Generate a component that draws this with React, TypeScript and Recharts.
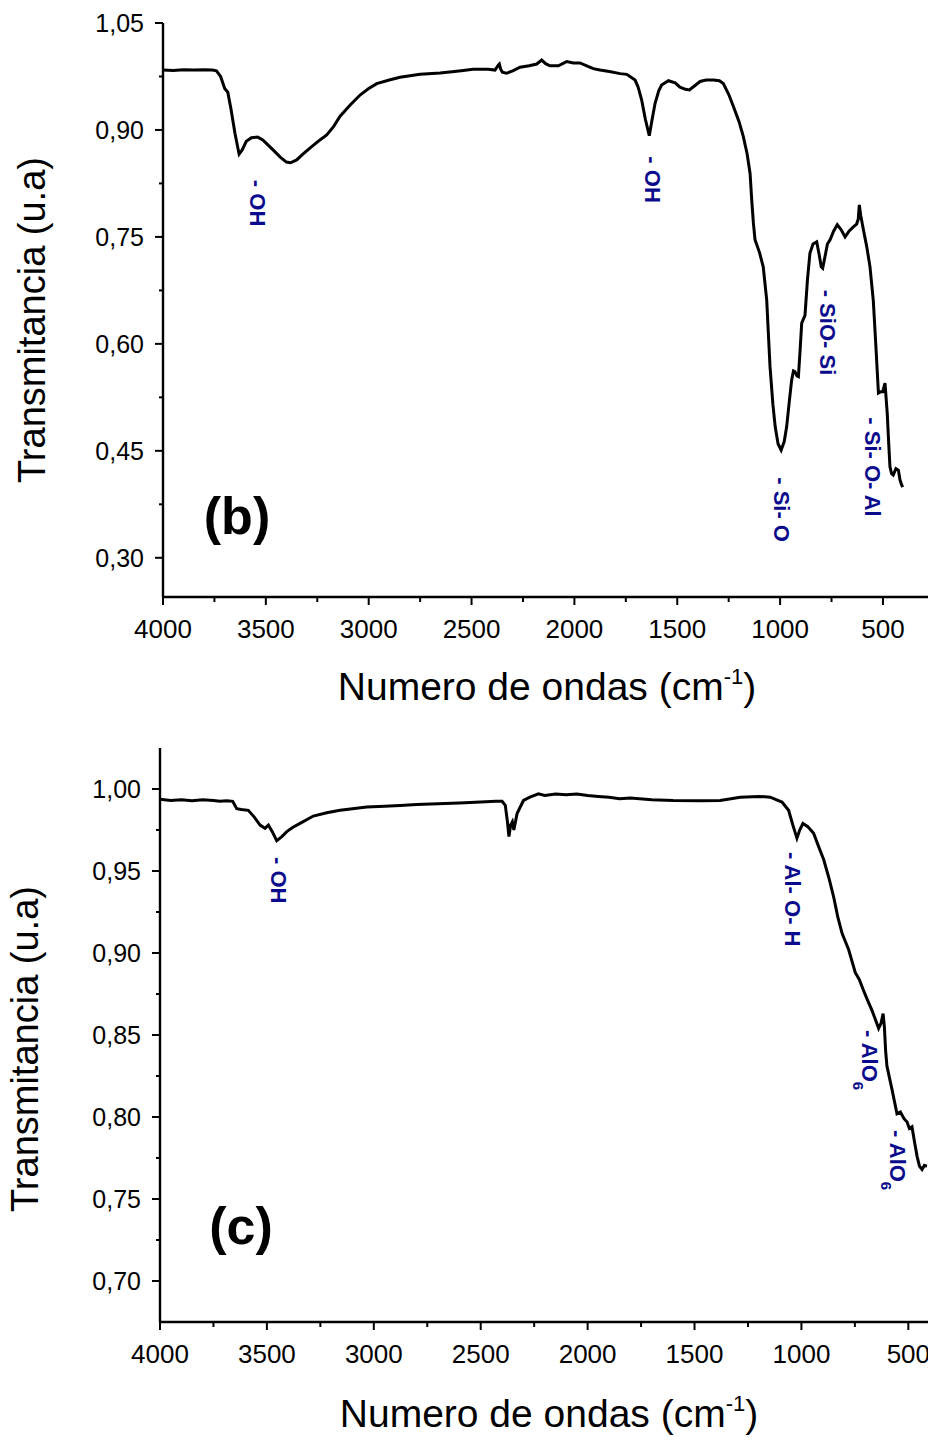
import React from 'react';
import { LineChart, Line, XAxis, YAxis, ReferenceDot } from 'recharts';

// spectrum (b)
const waveB = [4000, 3950, 3900, 3850, 3800, 3760, 3740, 3720, 3700, 3685, 3670, 3650, 3630, 3615, 3595, 3570, 3540, 3515, 3490, 3465, 3430, 3400, 3380, 3350, 3320, 3280, 3237, 3204, 3170, 3140, 3090, 3042, 3000, 2961, 2900, 2848, 2750, 2653, 2550, 2493, 2420, 2386, 2370, 2365, 2358, 2350, 2330, 2300, 2264, 2220, 2183, 2159, 2140, 2119, 2078, 2050, 2037, 2005, 1973, 1940, 1908, 1876, 1830, 1778, 1746, 1730, 1705, 1690, 1673, 1655, 1636, 1622, 1608, 1590, 1576, 1543, 1510, 1487, 1460, 1441, 1415, 1389, 1360, 1325, 1295, 1276, 1250, 1227, 1200, 1179, 1160, 1146, 1138, 1130, 1122, 1100, 1082, 1065, 1058, 1049, 1035, 1024, 1010, 995, 980, 968, 955, 944, 935, 928, 918, 911, 903, 895, 879, 867, 855, 840, 822, 810, 800, 793, 780, 770, 757, 740, 722, 703, 684, 665, 644, 628, 620, 615, 608, 595, 578, 563, 547, 535, 522, 510, 501, 490, 479, 472, 466, 458, 450, 437, 425, 417, 410, 404];
const transB = [0.984, 0.9835, 0.9845, 0.984, 0.9845, 0.984, 0.983, 0.975, 0.958, 0.953, 0.93, 0.895, 0.866, 0.872, 0.884, 0.889, 0.89, 0.886, 0.879, 0.872, 0.862, 0.855, 0.854, 0.858, 0.866, 0.876, 0.886, 0.893, 0.905, 0.919, 0.935, 0.949, 0.958, 0.965, 0.97, 0.974, 0.978, 0.98, 0.983, 0.985, 0.985, 0.984, 0.991, 0.9925, 0.985, 0.981, 0.9795, 0.983, 0.988, 0.99, 0.9925, 0.998, 0.993, 0.99, 0.99, 0.994, 0.996, 0.994, 0.994, 0.99, 0.986, 0.984, 0.982, 0.979, 0.978, 0.975, 0.97, 0.96, 0.942, 0.915, 0.892, 0.915, 0.937, 0.955, 0.963, 0.969, 0.966, 0.96, 0.957, 0.956, 0.962, 0.968, 0.97, 0.97, 0.969, 0.965, 0.95, 0.933, 0.912, 0.891, 0.866, 0.839, 0.802, 0.77, 0.746, 0.728, 0.708, 0.661, 0.62, 0.568, 0.515, 0.484, 0.46, 0.451, 0.463, 0.484, 0.52, 0.549, 0.562, 0.561, 0.555, 0.554, 0.59, 0.629, 0.64, 0.69, 0.727, 0.74, 0.743, 0.725, 0.708, 0.706, 0.725, 0.74, 0.746, 0.758, 0.767, 0.76, 0.75, 0.758, 0.764, 0.768, 0.775, 0.795, 0.78, 0.76, 0.735, 0.708, 0.661, 0.6, 0.531, 0.533, 0.533, 0.545, 0.502, 0.46, 0.428, 0.418, 0.416, 0.425, 0.423, 0.409, 0.403, 0.399];

// spectrum (c)
const waveC = [4000, 3950, 3900, 3850, 3800, 3750, 3720, 3688, 3660, 3641, 3620, 3587, 3560, 3532, 3509, 3493, 3475, 3454, 3430, 3407, 3380, 3345, 3283, 3220, 3158, 3100, 3033, 2950, 2877, 2800, 2700, 2600, 2500, 2430, 2400, 2385, 2375, 2368, 2360, 2352, 2345, 2330, 2300, 2270, 2230, 2200, 2150, 2100, 2050, 2000, 1950, 1900, 1850, 1800, 1700, 1600, 1473, 1380, 1286, 1200, 1146, 1110, 1091, 1060, 1040, 1021, 1008, 993, 970, 943, 920, 896, 870, 849, 830, 810, 779, 748, 730, 709, 690, 670, 650, 639, 628, 618, 612, 606, 600, 576, 553, 537, 520, 506, 495, 483, 470, 459, 448, 436, 425, 413];
const transC = [0.9937, 0.993, 0.9935, 0.9928, 0.9935, 0.993, 0.9925, 0.9929, 0.9925, 0.988, 0.9875, 0.987, 0.983, 0.978, 0.976, 0.978, 0.974, 0.9685, 0.971, 0.974, 0.9765, 0.979, 0.9835, 0.9855, 0.987, 0.988, 0.989, 0.9895, 0.99, 0.9905, 0.991, 0.9915, 0.992, 0.9925, 0.9925, 0.99, 0.98, 0.971, 0.978, 0.98, 0.975, 0.985, 0.993, 0.995, 0.997, 0.996, 0.997, 0.9965, 0.997, 0.996, 0.9955, 0.995, 0.994, 0.9945, 0.9935, 0.993, 0.9929, 0.993, 0.995, 0.9955, 0.995, 0.993, 0.992, 0.987, 0.978, 0.97, 0.975, 0.979, 0.977, 0.973, 0.965, 0.957, 0.945, 0.934, 0.922, 0.912, 0.902, 0.888, 0.884, 0.877, 0.871, 0.865, 0.858, 0.854, 0.857, 0.863, 0.855, 0.84, 0.831, 0.8165, 0.802, 0.803, 0.799, 0.797, 0.793, 0.794, 0.784, 0.776, 0.77, 0.768, 0.7705, 0.77];

const xTicks = [4000, 3750, 3500, 3250, 3000, 2750, 2500, 2250, 2000, 1750, 1500, 1250, 1000, 750, 500];
const xMajor = [4000, 3500, 3000, 2500, 2000, 1500, 1000, 500];
const yTicksB = [0.3, 0.375, 0.45, 0.525, 0.6, 0.675, 0.75, 0.825, 0.9, 0.975, 1.05];
const yMajorB = [0.3, 0.45, 0.6, 0.75, 0.9, 1.05];
const yTicksC = [0.7, 0.725, 0.75, 0.775, 0.8, 0.825, 0.85, 0.875, 0.9, 0.925, 0.95, 0.975, 1.0];
const yMajorC = [0.7, 0.75, 0.8, 0.85, 0.9, 0.95, 1.0];

// band labels: [wavenumber, transmittance, text, subscript]
const peaksB: [number, number, string, string][] = [
  [3543, 0.83, '- OH', ''],
  [1618, 0.863, '- OH', ''],
  [991, 0.413, '- Si- O', ''],
  [772, 0.676, '- SiO- Si', ''],
  [553, 0.497, '- Si- O- Al', ''],
];
const peaksC: [number, number, string, string][] = [
  [3448, 0.9585, '- OH', ''],
  [1043, 0.9616, '- Al- O- H', ''],
  [682, 0.853, '- AlO', '6'],
  [551, 0.792, '- AlO', '6'],
];

const FONT = '"Liberation Sans", Arial, Helvetica, sans-serif';
const isMajor = (list: number[], v: number) => list.some((m) => Math.abs(m - v) < 1e-6);
const fmt = (v: number) => v.toFixed(2).replace('.', ',');

function Spectrum(props: any) {
  const { wave, trans, xDomain, yDomain, yTicks, yMajor, peaks, panel, left, yTitle, xTitle, panelPos, top } = props;
  const data = wave.map((w: number, i: number) => ({ w, t: trans[i] }));
  const plotTop = 23;
  const plotBottom = 597;
  const H = 720;

  return (
    <div style={{ position: 'absolute', left: 0, top }}>
      <LineChart width={928} height={H} data={data} margin={{ top: plotTop, right: 0, bottom: 0, left: 0 }}>
        <XAxis
          dataKey="w"
          type="number"
          domain={xDomain}
          reversed
          allowDataOverflow
          ticks={xTicks}
          interval={0}
          height={H - plotBottom}
          axisLine={{ stroke: '#000', strokeWidth: 2.4 }}
          tickLine={false}
          tick={(p: any) => {
            const major = isMajor(xMajor, p.payload.value);
            return (
              <g key={p.index}>
                <line x1={p.x} x2={p.x} y1={plotBottom} y2={plotBottom + (major ? 8 : 5)} stroke="#000" strokeWidth={2} />
                {major && (
                  <text x={p.x} y={plotBottom + 41} textAnchor="middle" fontSize={26} fontFamily={FONT} fill="#000">
                    {p.payload.value}
                  </text>
                )}
              </g>
            );
          }}
        />
        <XAxis
          xAxisId="top"
          orientation="top"
          dataKey="w"
          type="number"
          domain={xDomain}
          reversed
          allowDataOverflow
          ticks={xTicks}
          interval={0}
          height={0}
          axisLine={{ stroke: '#000', strokeWidth: 2.4 }}
          tickLine={false}
          tick={(p: any) => (
            <line key={p.index} x1={p.x} x2={p.x} y1={plotTop} y2={plotTop + 4} stroke="#000" strokeWidth={1.5} />
          )}
        />
        <YAxis
          type="number"
          domain={yDomain}
          allowDataOverflow
          ticks={yTicks}
          interval={0}
          width={left}
          axisLine={{ stroke: '#000', strokeWidth: 2.4 }}
          tickLine={false}
          tick={(p: any) => {
            const major = isMajor(yMajor, p.payload.value);
            return (
              <g key={p.index}>
                <line x1={left - (major ? 8 : 4)} x2={left} y1={p.y} y2={p.y} stroke="#000" strokeWidth={2} />
                {major && (
                  <text x={left - 19} y={p.y} textAnchor="end" dominantBaseline="central" fontSize={25} fontFamily={FONT} fill="#000">
                    {fmt(p.payload.value)}
                  </text>
                )}
              </g>
            );
          }}
        />
        <Line type="linear" dataKey="t" stroke="#000" strokeWidth={3} dot={false} isAnimationActive={false} />
        {peaks.map(([w, t, txt, sub]: [number, number, string, string], i: number) => (
          <ReferenceDot
            key={i}
            x={w}
            y={t}
            r={0}
            fill="none"
            stroke="none"
            label={{
              content: (lp: any) => {
                const vb = lp.viewBox || {};
                const cx = vb.x + (vb.width || 0) / 2;
                const cy = vb.y + (vb.height || 0) / 2;
                return (
                  <text
                    x={cx}
                    y={cy}
                    transform={`rotate(90 ${cx} ${cy})`}
                    textAnchor="start"
                    dominantBaseline="central"
                    fontSize={22}
                    fontWeight="bold"
                    fontFamily={FONT}
                    fill="#0a0a8c"
                  >
                    {txt}
                    {sub && (
                      <tspan fontSize={15} dy={10}>
                        {sub}
                      </tspan>
                    )}
                  </text>
                );
              },
            }}
          />
        ))}
        <text
          x={yTitle[0]}
          y={yTitle[1]}
          transform={`rotate(-90 ${yTitle[0]} ${yTitle[1]})`}
          textAnchor="middle"
          fontSize={38}
          fontFamily={FONT}
          fill="#000"
        >
          Transmitancia (u.a)
        </text>
        <text x={xTitle[0]} y={xTitle[1]} textAnchor="middle" fontSize={39} fontFamily={FONT} fill="#000">
          Numero de ondas (cm
          <tspan fontSize={22} dy={-16}>-1</tspan>
          <tspan dy={16}>)</tspan>
        </text>
        <text x={panelPos[0]} y={panelPos[1]} textAnchor="middle" fontSize={52} fontWeight="bold" fontFamily={FONT} fill="#000">
          {panel}
        </text>
      </LineChart>
    </div>
  );
}

export default function App() {
  return (
    <div style={{ position: 'absolute', left: 0, top: 0, width: 928, height: 1441, overflow: 'hidden', background: '#fff' }}>
      <Spectrum
        top={0}
        wave={waveB}
        trans={transB}
        xDomain={[281, 4000]}
        yDomain={[0.245, 1.05]}
        yTicks={yTicksB}
        yMajor={yMajorB}
        peaks={peaksB}
        panel="(b)"
        left={163}
        yTitle={[45, 320]}
        xTitle={[547, 700]}
        panelPos={[237, 534]}
      />
      <Spectrum
        top={725}
        wave={waveC}
        trans={transC}
        xDomain={[408, 4000]}
        yDomain={[0.675, 1.025]}
        yTicks={yTicksC}
        yMajor={yMajorC}
        peaks={peaksC}
        panel="(c)"
        left={160}
        yTitle={[38, 324]}
        xTitle={[549, 702]}
        panelPos={[241, 519]}
      />
    </div>
  );
}
